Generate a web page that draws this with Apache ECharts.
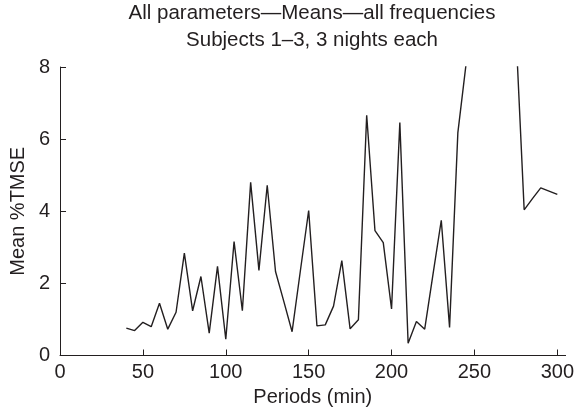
<!DOCTYPE html>
<html>
<head>
<meta charset="utf-8">
<script src="https://cdn.jsdelivr.net/npm/echarts@6/dist/echarts.min.js"></script>
<style>
html,body{margin:0;padding:0;background:#fff;}
#c{width:577px;height:418px;}
</style>
</head>
<body>
<div id="c"></div>
<script>
var titleLines = ['All parameters\u2014Means\u2014all frequencies', 'Subjects 1\u20133, 3 nights each'];
var xName = 'Periods (min)';
var yName = 'Mean %TMSE';
var xTicks = [0, 50, 100, 150, 200, 250, 300];
var yTicks = [0, 2, 4, 6, 8];
var periods = [40, 45, 50, 55, 60, 65, 70, 75, 80, 85, 90, 95, 100, 105, 110, 115, 120, 125, 130, 135,
  140, 145, 150, 155, 160, 165, 170, 175, 180, 185, 190, 195, 200, 205, 210, 215, 220, 225, 230, 235,
  240, 245, 250, 255, 260, 265, 270, 275, 280, 285, 290, 295, 300];
var meanTMSE = [0.76, 0.69, 0.92, 0.80, 1.45, 0.73, 1.20, 2.84, 1.24, 2.19, 0.62, 2.47, 0.45, 3.16, 1.24, 4.80, 2.36, 4.72, 2.33, 1.50,
  0.66, 2.35, 4.02, 0.82, 0.85, 1.37, 2.63, 0.74, 0.99, 6.66, 3.46, 3.13, 1.29, 6.46, 0.34, 0.94, 0.73, 2.25, 3.75, 0.78,
  6.18, 8.1, 10.5, 12.0, 12.5, 11.5, 10.0, 9.0, 4.04, 4.35, 4.65, 4.56, 4.47];

var ink = '#231f20';
var font = 'Liberation Sans, Arial, Helvetica, sans-serif';
var chart = echarts.init(document.getElementById('c'), null, {renderer: 'canvas'});
chart.setOption({
  animation: false,
  backgroundColor: '#ffffff',
  title: {
    text: titleLines.join('\n'),
    left: 312,
    top: 0,
    padding: 0,
    textAlign: 'center',
    textStyle: {color: ink, fontFamily: font, fontSize: 20.5, fontWeight: 'normal', lineHeight: 27}
  },
  grid: {left: 60, right: 10.5, top: 67, bottom: 62.5, containLabel: false},
  xAxis: {
    type: 'value', min: 0, max: 305, interval: 50,
    name: xName, nameLocation: 'middle', nameGap: 31,
    nameTextStyle: {color: ink, fontFamily: font, fontSize: 20},
    axisLine: {show: true, lineStyle: {color: ink, width: 1}},
    axisTick: {show: true, inside: true, length: 6, lineStyle: {color: ink}, customValues: xTicks},
    axisLabel: {color: ink, fontFamily: font, fontSize: 20, margin: 7, customValues: xTicks},
    splitLine: {show: false}
  },
  yAxis: {
    type: 'value', min: 0, max: 8, interval: 2,
    name: yName, nameLocation: 'middle', nameGap: 22,
    nameTextStyle: {color: ink, fontFamily: font, fontSize: 20},
    axisLine: {show: true, lineStyle: {color: ink, width: 1}},
    axisTick: {show: true, inside: true, length: 6, lineStyle: {color: ink}, customValues: yTicks},
    axisLabel: {color: ink, fontFamily: font, fontSize: 20, margin: 10, customValues: yTicks},
    splitLine: {show: false}
  },
  series: [{
    type: 'line',
    data: periods.map(function (p, i) { return [p, meanTMSE[i]]; }),
    showSymbol: false,
    clip: true,
    lineStyle: {color: ink, width: 1.4},
    itemStyle: {color: ink}
  }]
});
</script>
</body>
</html>
